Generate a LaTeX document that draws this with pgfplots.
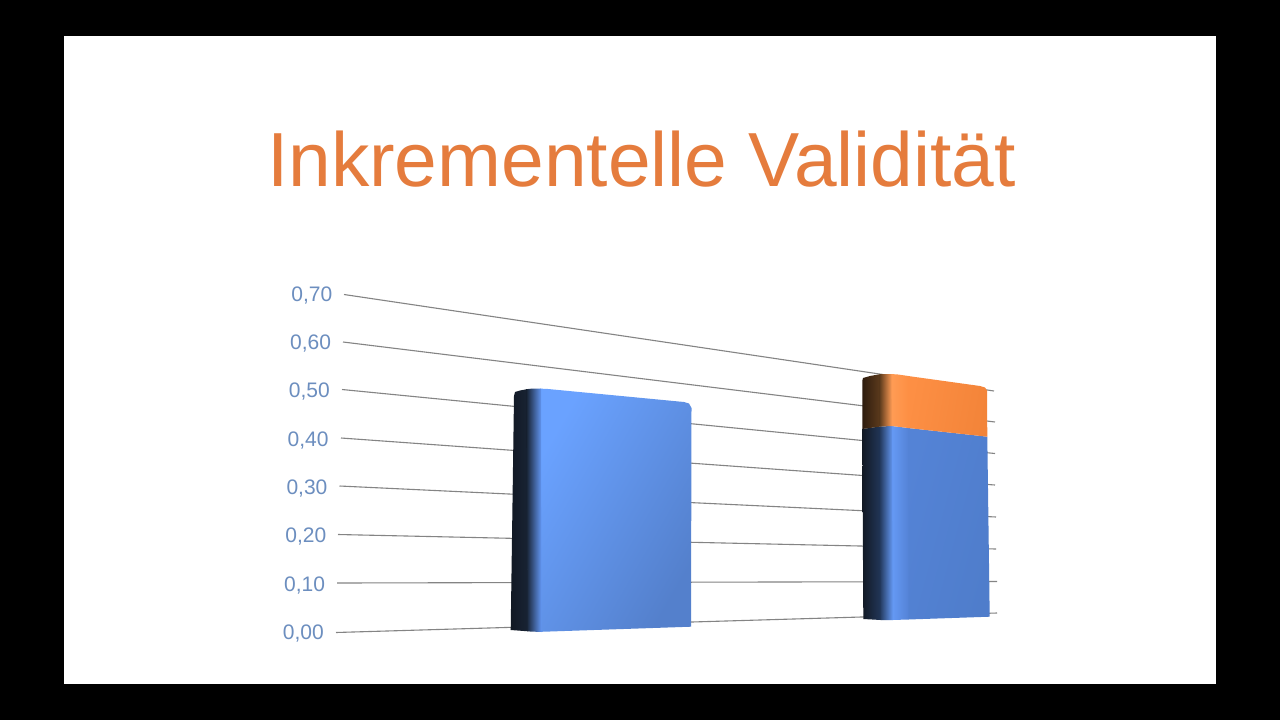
\documentclass[border=0pt]{standalone}
\usepackage{pgfplots}
\pgfplotsset{compat=1.18}
\usepackage{fontspec}
\setmainfont{Liberation Sans}

\definecolor{titleorange}{HTML}{E57C3D}
\definecolor{ticktext}{HTML}{6C8EBF}
\definecolor{gridgray}{HTML}{848484}
\definecolor{sidedark}{HTML}{121924}
\definecolor{sidemid}{HTML}{182334}
\definecolor{sideright}{HTML}{22375A}
\definecolor{blueA}{HTML}{6AA2FF}
\definecolor{blueB}{HTML}{5480CC}
\definecolor{blueS}{HTML}{6397F4}
\definecolor{blueC}{HTML}{659AF6}
\definecolor{blueD}{HTML}{5483D6}
\definecolor{blueE}{HTML}{4F7DCB}
\definecolor{orangeA}{HTML}{FF9C55}
\definecolor{orangeB}{HTML}{FD8F44}
\definecolor{orangeC}{HTML}{F38439}
\definecolor{odark}{HTML}{2E1C0E}
\definecolor{omid}{HTML}{5C3A1C}

\begin{document}
\begin{tikzpicture}[x=1pt,y=1pt]
% everything is placed in the pixel coordinates of the slide
\begin{axis}[
    at={(0pt,0pt)}, anchor=south west,
    scale only axis, width=1280pt, height=720pt,
    xmin=0, xmax=1280, ymin=0, ymax=720,
    y dir=reverse,
    hide axis,
]
\addplot[draw=none, fill=black] coordinates {(0,0)(1280,0)(1280,720)(0,720)} --cycle;
\addplot[draw=none, fill=white] coordinates {(64,36)(1216,36)(1216,684)(64,684)} --cycle;

% grid lines 0,00 ... 0,70
\addplot[gridgray, line width=1.1pt] coordinates {(336,632.5)(997,613)};
\addplot[gridgray, line width=1.1pt] coordinates {(337,583)(997,581.5)};
\addplot[gridgray, line width=1.1pt] coordinates {(338,534.5)(996,549)};
\addplot[gridgray, line width=1.1pt] coordinates {(339.5,486)(996,517)};
\addplot[gridgray, line width=1.1pt] coordinates {(341,438)(995,485)};
\addplot[gridgray, line width=1.1pt] coordinates {(342,389.5)(995,453.5)};
\addplot[gridgray, line width=1.1pt] coordinates {(343,342)(995,422)};
\addplot[gridgray, line width=1.1pt] coordinates {(344,294.5)(994,391)};

% left bar
\addplot[draw=none, left color=blueA, right color=blueB, shading angle=60]
  coordinates {(540,388.6)(548,389)(684,402)(689,403.5)(691.5,408)(691,626.7)(541,631.8)} --cycle;
\addplot[draw=none, left color=sidedark, right color=sidemid]
  coordinates {(514,396)(515,392)(520,390.5)(527,389.2)(528,631.3)(510.7,630)} --cycle;
\addplot[draw=none, left color=sidemid, right color=blueS]
  coordinates {(526.5,389.2)(532,388.6)(541,388.6)(541.5,632)(530,631.5)(527.5,631.3)} --cycle;

% right bar, blue part
\addplot[draw=none, left color=blueD, right color=blueE, shading angle=75]
  coordinates {(908,428)(987.3,436.7)(989.7,616.7)(908,619.5)} --cycle;
\addplot[draw=none, left color=blueC, right color=blueD]
  coordinates {(891.5,426)(908.5,428)(908.5,619.5)(892.5,620)} --cycle;
\addplot[draw=none, left color=sidedark, right color=sideright]
  coordinates {(862.3,429)(880,426.5)(881,620)(863.3,619)} --cycle;
\addplot[draw=none, left color=sideright, right color=blueC]
  coordinates {(879.5,426.5)(892,426)(893,620)(880.5,620)} --cycle;
% right bar, orange part
\addplot[draw=none, left color=orangeB, right color=orangeC, shading angle=80]
  coordinates {(908,376)(980,386)(985,387.5)(987,390.5)(987.3,436.7)(908,428)} --cycle;
\addplot[draw=none, left color=orangeA, right color=orangeB]
  coordinates {(891,374)(898,374.5)(908.5,376)(908.5,428)(891.5,426)} --cycle;
\addplot[draw=none, left color=odark, right color=omid]
  coordinates {(862.3,381)(863,378)(870,376)(880,374.2)(880,426.6)(862.3,429)} --cycle;
\addplot[draw=none, left color=omid, right color=orangeA]
  coordinates {(879.5,374.2)(884,374)(891.5,374)(892,426)(879.5,426.6)} --cycle;

\node[anchor=base, text=titleorange, font=\fontsize{76.7}{76.7}\selectfont, inner sep=0pt]
  at (axis cs:641.5,186) {Inkrementelle Validität};
\end{axis}

% value axis, only its tick labels show
\begin{axis}[
    at={(324pt,87.5pt)}, anchor=south west,
    scale only axis, width=1pt, height=338pt,
    xmin=0, xmax=1, ymin=0, ymax=0.7,
    xtick=\empty,
    ytick={0,0.1,0.2,0.3,0.4,0.5,0.6,0.7},
    yticklabels={{0,00},{0,10\hspace*{-1.2pt}},{0,20\hspace*{-2.4pt}},{0,30\hspace*{-3.6pt}},{0,40\hspace*{-4.8pt}},{0,50\hspace*{-6pt}},{0,60\hspace*{-7.2pt}},{0,70\hspace*{-8.4pt}}},
    major tick length=0pt,
    axis line style={draw=none},
    yticklabel style={anchor=east, inner sep=0pt, yshift=-0.8pt, text=ticktext, font=\fontsize{21}{21}\selectfont},
]
\end{axis}
\end{tikzpicture}
\end{document}
